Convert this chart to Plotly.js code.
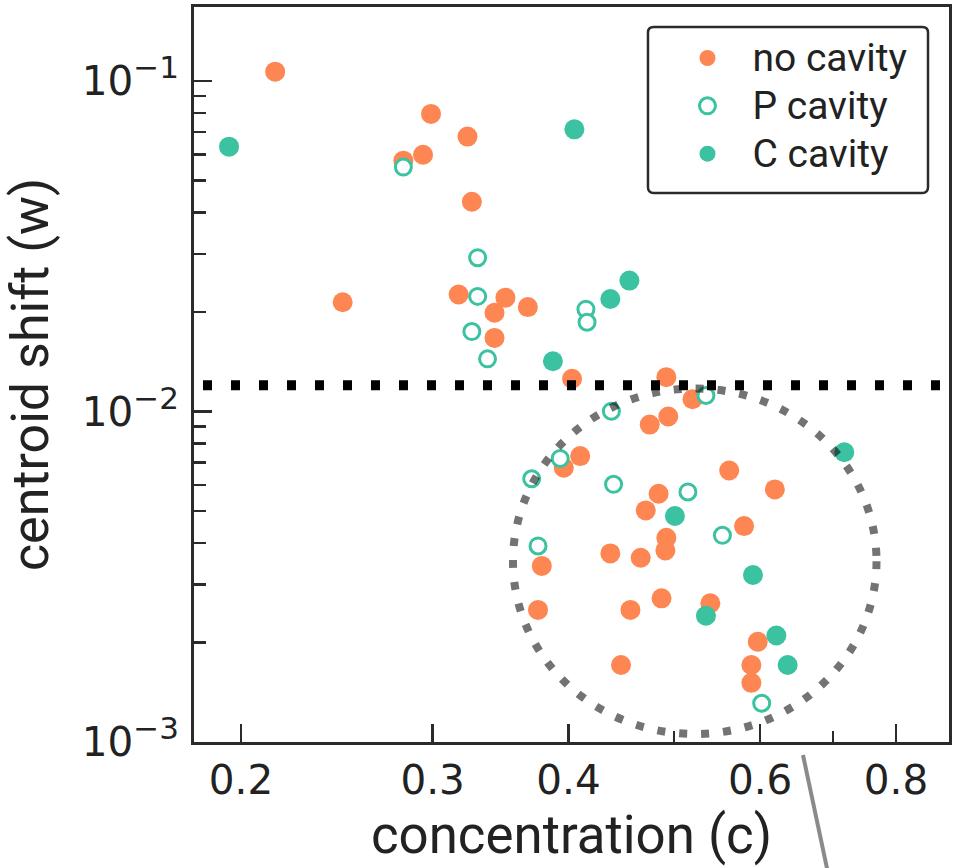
<!DOCTYPE html>
<html><head><meta charset="utf-8">
<script src="https://cdn.plot.ly/plotly-3.0.1.min.js"></script>
<style>html,body{margin:0;padding:0;background:#fff;}</style>
</head><body><div id="chart" style="width:957px;height:868px;"></div>
<script>
// ---- data ----
const noCavityC = [0.215,0.299,0.323,0.294,0.282,0.326,0.248,0.317,0.350,0.342,0.367,0.342,0.403,0.492,0.520,0.494,0.475,0.410,0.396,0.562,0.619,0.484,0.471,0.580,0.492,0.491,0.437,0.466,0.378,0.487,0.540,0.375,0.456,0.597,0.447,0.589,0.589];
const noCavityW = [0.1067,0.0795,0.0679,0.0598,0.0574,0.0431,0.0214,0.0226,0.0221,0.0199,0.0207,0.0167,0.01256,0.0127,0.0109,0.00966,0.00913,0.00733,0.00676,0.00663,0.00581,0.00564,0.00502,0.00450,0.00415,0.00380,0.00372,0.00361,0.00341,0.00272,0.00263,0.00251,0.00251,0.00201,0.00171,0.00171,0.00151];
const pCavityC = [0.282,0.330,0.330,0.326,0.337,0.415,0.416,0.438,0.535,0.393,0.370,0.440,0.515,0.554,0.375,0.602];
const pCavityW = [0.0549,0.0292,0.0223,0.01745,0.01443,0.0204,0.01862,0.01002,0.01118,0.00721,0.00626,0.00602,0.00571,0.00422,0.00392,0.00131];
const cCavityC = [0.195,0.405,0.437,0.455,0.387,0.717,0.501,0.591,0.535,0.621,0.636];
const cCavityW = [0.0633,0.0714,0.0219,0.0249,0.01419,0.00753,0.00483,0.0032,0.00241,0.00210,0.00171];
const seriesNames = ['no cavity','P cavity','C cavity'];
const thresholdW = [0.012];
const xTickVals = [0.2,0.3,0.4,0.6,0.8];
const xTickText = ['0.2','0.3','0.4','0.6','0.8'];
const xMinorVals = [0.5,0.7];
const yTickVals = [0.001,0.01,0.1];
const yTickExp = ['\u22123','\u22122','\u22121'];
const yMinorVals = [0.002,0.003,0.004,0.005,0.006,0.007,0.008,0.009,0.02,0.03,0.04,0.05,0.06,0.07,0.08,0.09];

const ORANGE = '#fd8652';
const TEAL = '#3bc2a1';
const AX = '#2b2b2b';

const legendLabel = s => '<span style="font-size:39px">' + s + '</span>';
const yTickText = yTickExp.map(e => '10<sup><span style="font-size:31px">' + e + '</span></sup>');

const traces = [
  {x: noCavityC, y: noCavityW, name: legendLabel(seriesNames[0]), type: 'scatter', mode: 'markers',
   marker: {size: 20, color: ORANGE, line: {width: 0}}},
  {x: pCavityC, y: pCavityW, name: legendLabel(seriesNames[1]), type: 'scatter', mode: 'markers',
   marker: {size: 16, color: '#ffffff', line: {width: 3, color: TEAL}}},
  {x: cCavityC, y: cCavityW, name: legendLabel(seriesNames[2]), type: 'scatter', mode: 'markers',
   marker: {size: 20, color: TEAL, line: {width: 0}}}
];

const tickFont = {family: 'DejaVu Sans', size: 40.5, color: '#222'};

// rounded legend frame (paper coordinates)
const fx0 = 0.6013, fx1 = 0.9722, fy0 = 0.7469, fy1 = 0.9728, rx = 0.0075, ry = 0.0077;
const framePath = `M ${fx0+rx},${fy1} L ${fx1-rx},${fy1} Q ${fx1},${fy1} ${fx1},${fy1-ry} L ${fx1},${fy0+ry} Q ${fx1},${fy0} ${fx1-rx},${fy0} L ${fx0+rx},${fy0} Q ${fx0},${fy0} ${fx0},${fy0+ry} L ${fx0},${fy1-ry} Q ${fx0},${fy1} ${fx0+rx},${fy1} Z`;

const layout = {
  width: 957, height: 868,
  margin: {l: 194, r: 8, t: 7, b: 126, pad: 0},
  paper_bgcolor: '#fff', plot_bgcolor: '#fff',
  showlegend: true,
  xaxis: {
    type: 'log', range: [-0.74217, -0.04824], autorange: false,
    tickmode: 'array', tickvals: xTickVals, ticktext: xTickText,
    ticks: 'inside', ticklen: 18, tickwidth: 2.5, tickcolor: AX,
    minor: {tickmode: 'array', tickvals: xMinorVals, ticks: 'inside', ticklen: 11, tickwidth: 2.5, tickcolor: AX, showgrid: false},
    showgrid: false, zeroline: false,
    showline: true, linewidth: 3, linecolor: AX, mirror: true,
    tickfont: tickFont,
    title: {text: 'concentration (c)', font: {family: 'Roboto', size: 52.8, color: '#222'}, standoff: 14}
  },
  yaxis: {
    type: 'log', range: [-3, -0.7761], autorange: false,
    tickmode: 'array', tickvals: yTickVals, ticktext: yTickText,
    ticks: 'inside', ticklen: 18, tickwidth: 2.5, tickcolor: AX,
    minor: {tickmode: 'array', tickvals: yMinorVals, ticks: 'inside', ticklen: 12, tickwidth: 2.5, tickcolor: AX, showgrid: false},
    showgrid: false, zeroline: false,
    showline: true, linewidth: 3, linecolor: AX, mirror: true,
    tickfont: tickFont, ticklabelstandoff: 4,
    title: {text: 'centroid shift (w)', font: {family: 'Roboto', size: 52, color: '#222'}, standoff: 36}
  },
  legend: {
    x: 0.6046, y: 0.9700, xanchor: 'left', yanchor: 'top',
    bgcolor: 'rgba(0,0,0,0)', borderwidth: 0,
    font: {family: 'Roboto', size: 34.5, color: '#222'},
    itemwidth: 80, indentation: 12
  },
  shapes: [
    {type: 'path', xref: 'paper', yref: 'paper', path: framePath,
     line: {color: AX, width: 2.5}, fillcolor: '#ffffff', layer: 'above'},
    {type: 'line', xref: 'paper', yref: 'y', x0: 0.0119, x1: 1,
     y0: thresholdW[0], y1: thresholdW[0],
     line: {color: '#000', width: 10, dash: '9px,19px'}, layer: 'above'},
    {type: 'circle', xref: 'paper', yref: 'paper', x0: 0.4225, x1: 0.9040, y0: 0.0109, y1: 0.4810,
     line: {color: 'rgba(0,0,0,0.55)', width: 8, dash: '8px,14px'}, fillcolor: 'rgba(0,0,0,0)', layer: 'above'},
    {type: 'line', xref: 'paper', yref: 'paper', x0: 0.8066, y0: -0.0177, x1: 0.8417, y1: -0.1878,
     line: {color: '#8a8a8a', width: 4}, layer: 'above'}
  ]
};

Plotly.newPlot('chart', traces, layout, {staticPlot: true, displayModeBar: false});
</script>
</body></html>
